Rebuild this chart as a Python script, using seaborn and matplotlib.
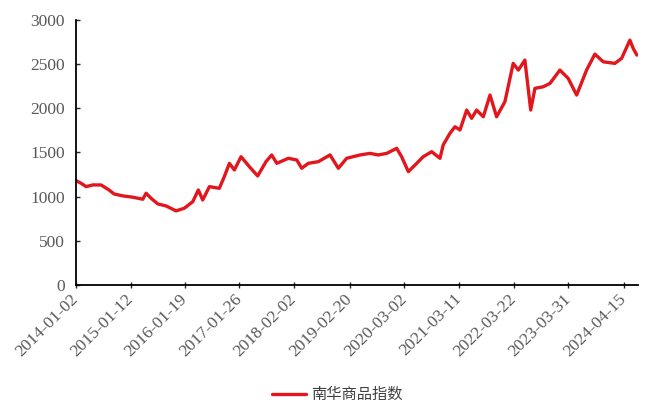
import pandas as pd
import seaborn as sns
import matplotlib.pyplot as plt

# values
dates = ["2014-01-02", "2014-02-05", "2014-03-12", "2014-04-26", "2014-06-22",
         "2014-08-16", "2014-09-19", "2014-11-18", "2015-01-26", "2015-04-04",
         "2015-04-27", "2015-05-31", "2015-07-16", "2015-09-11", "2015-11-18",
         "2016-01-14", "2016-03-12", "2016-04-19", "2016-05-19", "2016-07-04",
         "2016-09-10", "2016-10-14", "2016-11-18", "2016-12-22", "2017-02-06",
         "2017-04-04", "2017-05-31", "2017-07-27", "2017-09-04", "2017-10-09",
         "2017-12-27", "2018-02-23", "2018-03-29", "2018-05-13", "2018-07-21",
         "2018-10-09", "2018-12-05", "2019-01-31", "2019-05-03", "2019-07-10",
         "2019-09-05", "2019-11-02", "2020-01-09", "2020-02-12", "2020-03-29",
         "2020-05-14", "2020-07-09", "2020-09-05", "2020-11-01", "2020-11-23",
         "2021-01-08", "2021-02-12", "2021-03-18", "2021-05-03", "2021-06-06",
         "2021-07-10", "2021-08-25", "2021-10-10", "2021-11-24", "2022-01-20",
         "2022-03-18", "2022-04-22", "2022-06-06", "2022-07-16", "2022-08-14",
         "2022-10-10", "2022-11-25", "2023-02-01", "2023-03-30", "2023-05-27",
         "2023-08-03", "2023-09-29", "2023-11-25", "2024-02-13", "2024-03-30",
         "2024-05-26", "2024-06-18", "2024-07-13"]
values = [1181, 1151, 1113, 1132, 1132,
          1075, 1030, 1008, 993, 970,
          1038, 981, 917, 894, 838,
          868, 943, 1075, 962, 1113,
          1094, 1226, 1377, 1302, 1452,
          1339, 1234, 1396, 1472, 1377,
          1434, 1415, 1321, 1377, 1396,
          1472, 1321, 1434, 1472, 1490,
          1472, 1490, 1547, 1452, 1283,
          1358, 1452, 1509, 1434, 1585,
          1717, 1792, 1755, 1981, 1887,
          1981, 1905, 2151, 1905, 2075,
          2510, 2434, 2547, 1981, 2227,
          2245, 2283, 2434, 2340, 2151,
          2434, 2615, 2528, 2510, 2566,
          2773, 2679, 2604]
tick_dates = ["2014-01-02", "2015-01-12", "2016-01-19", "2017-01-26", "2018-02-02",
              "2019-02-20", "2020-03-02", "2021-03-11", "2022-03-22", "2023-03-31",
              "2024-04-15"]
series_name = "南华商品指数"

df = pd.DataFrame({"date": pd.to_datetime(dates), "value": values})

sns.set_style("ticks")
plt.rcParams['font.family'] = ['Liberation Serif', 'Noto Sans CJK SC', 'DejaVu Sans']

fig = plt.figure(figsize=(6.45, 4.11), dpi=100)
ax = fig.add_axes([0.118, 0.307, 0.871, 0.644])
sns.lineplot(data=df, x="date", y="value", color="#e2161d", linewidth=2.4,
             label=series_name, ax=ax)

ax.set_ylim(0, 3000)
ax.set_yticks(range(0, 3001, 500))
ax.set_xlim(pd.Timestamp("2014-01-02"), pd.Timestamp("2024-07-20"))
ax.set_xticks(pd.to_datetime(tick_dates))
ax.set_xticklabels(tick_dates, rotation=45, ha="right", va="center",
                   rotation_mode="anchor")
ax.set_xlabel("")
ax.set_ylabel("")
ax.tick_params(axis="x", direction="inout", length=5, width=1, pad=6,
               labelsize=12.5, labelcolor="#595959")
ax.tick_params(axis="y", direction="in", length=3, width=1, pad=8,
               labelsize=12.5, labelcolor="#595959")
for s in ["top", "right"]:
    ax.spines[s].set_visible(False)
for s in ["left", "bottom"]:
    ax.spines[s].set_color("black")
    ax.spines[s].set_linewidth(1.3)

ax.legend(loc="center", bbox_to_anchor=(0.523, 0.04), bbox_transform=fig.transFigure,
          frameon=False, handlelength=2.2, handletextpad=0.3,
          prop={"family": ["Noto Sans CJK SC"], "size": 11})
for t in ax.get_legend().get_texts():
    t.set_color("#404040")

fig.savefig("out.png", dpi=100)
